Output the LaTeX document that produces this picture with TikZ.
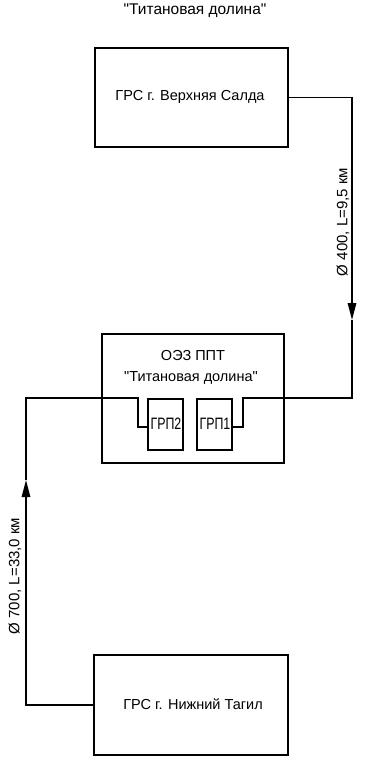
\documentclass[tikz,border=0pt]{standalone}
\usepackage{fontspec}
\setmainfont[Ligatures=TeXOff]{Liberation Sans}
\newfontfamily\narrowfont[FakeStretch=0.75,Ligatures=TeXOff]{Liberation Sans}
\usetikzlibrary{arrows.meta}
\begin{document}
\begin{tikzpicture}[x=1pt,y=-1pt,
  box/.style={draw, line width=1.9pt, inner sep=0pt, anchor=center},
  pipe/.style={line width=1.6pt},
  tip/.style={-{Triangle[length=17pt,width=8.5pt]}},
  lbl/.style={font=\fontsize{14.5}{17}\selectfont, inner sep=0pt},
  ttl/.style={font=\fontsize{15.5}{18}\selectfont, inner sep=0pt},
  rlbl/.style={font=\fontsize{15}{17}\selectfont, inner sep=0pt, rotate=90},
  small/.style={font=\narrowfont\fontsize{16.5}{18}\selectfont, inner sep=0pt}]
\useasboundingbox (0,0) rectangle (382,763);
\fill[white] (0,0) rectangle (382,763);
% title
\node[ttl] (title) at (195,11) {"Титановая долина"};
% boxes
\node[box, minimum width=193pt, minimum height=99pt] (vs) at (191.5,97.5) {};
\node[lbl] (vst) at (190,97) {ГРС г. Верхняя Салда};
\node[box, minimum width=182pt, minimum height=129pt] (oez) at (193,398.5) {};
\node[lbl] (oez1) at (193,356) {ОЭЗ ППТ};
\node[lbl] (oez2) at (191,378) {"Титановая долина"};
\node[box, minimum width=35pt, minimum height=51pt] (grp2) at (165.5,424.5) {};
\node[small] (grp2t) at (166,424) {ГРП2};
\node[box, minimum width=35pt, minimum height=51pt] (grp1) at (214.5,424.5) {};
\node[small] (grp1t) at (215,424) {ГРП1};
\node[box, minimum width=194pt, minimum height=100pt] (nt) at (191,705) {};
\node[lbl] (ntt) at (193,704) {ГРС г. Нижний Тагил};
% connector from Verkhnyaya Salda
\coordinate (r1) at (352,97.5);
\coordinate (ra) at (352,320);
\coordinate (r2) at (352,398);
\coordinate (r3) at (243,398);
\coordinate (r4) at (243,427);
\draw[pipe, tip] (vs.east) -- (r1) -- (ra);
\draw[pipe] (ra) -- (r2) -- (r3) -- (r4) -- (grp1.east |- r4);
% connector from Nizhny Tagil
\coordinate (l1) at (26,705);
\coordinate (la) at (26,480);
\coordinate (l2) at (26,398);
\coordinate (l3) at (138,398);
\coordinate (l4) at (138,427);
\draw[pipe, tip] (nt.west |- l1) -- (l1) -- (la);
\draw[pipe] (la) -- (l2) -- (l3) -- (l4) -- (grp2.west |- l4);
% labels
\node[rlbl] (lr) at (343,222) {Ø 400, L=9,5 км};
\node[rlbl] (ll) at (15,576) {Ø 700, L=33,0 км};
\end{tikzpicture}
\end{document}
